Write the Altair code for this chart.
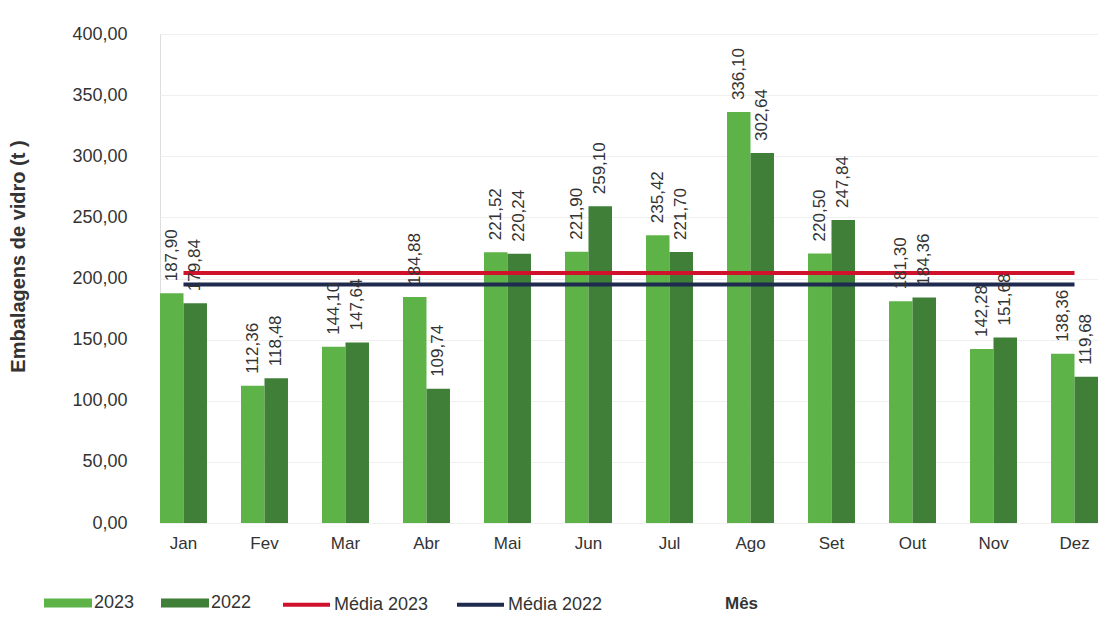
import altair as alt
import pandas as pd

months = ["Jan", "Fev", "Mar", "Abr", "Mai", "Jun", "Jul", "Ago", "Set", "Out", "Nov", "Dez"]
v2023 = [187.90, 112.36, 144.10, 184.88, 221.52, 221.90, 235.42, 336.10, 220.50, 181.30, 142.28, 138.36]
v2022 = [179.84, 118.48, 147.64, 109.74, 220.24, 259.10, 221.70, 302.64, 247.84, 184.36, 151.68, 119.68]
mean_names = ["Média 2023", "Média 2022"]
mean_values = [204.5, 195.0]

FONT = "Liberation Sans, Arial, sans-serif"

rows = []
for m, a, b in zip(months, v2023, v2022):
    rows.append({"mes": m, "ano": "2023", "valor": a, "rotulo": f"{a:.2f}".replace(".", ",")})
    rows.append({"mes": m, "ano": "2022", "valor": b, "rotulo": f"{b:.2f}".replace(".", ",")})
bars_df = pd.DataFrame(rows)

mean_rows = []
for name, val in zip(mean_names, mean_values):
    for m in (months[0], months[-1]):
        mean_rows.append({"mes": m, "serie": name, "valor": val})
mean_df = pd.DataFrame(mean_rows)

x_enc = alt.X(
    "mes:N",
    sort=months,
    scale=alt.Scale(paddingInner=0.42, paddingOuter=0.0),
    axis=alt.Axis(
        title="Mês",
        titleFont=FONT, titleFontSize=17, titleFontWeight="bold", titleColor="#333333",
        titleX=581, titleY=80, titleAlign="center", titleBaseline="middle", titleAnchor="start",
        labelFont=FONT, labelFontSize=17, labelColor="#333333", labelPadding=12,
        labelAngle=0, ticks=False, domain=False, grid=False,
    ),
)
y_scale = alt.Scale(domain=[0, 400], nice=False)
y_axis = alt.Axis(
    title="Embalagens  de vidro (t )",
    titleFont=FONT, titleFontSize=20, titleFontWeight="bold", titleColor="#333333",
    titleAngle=270, titleX=-142, titleY=222, titleAlign="center", titleBaseline="middle",
    labelFont=FONT, labelFontSize=18, labelColor="#333333", labelPadding=33,
    values=[0, 50, 100, 150, 200, 250, 300, 350, 400],
    labelExpr="replace(format(datum.value, '.2f'), '.', ',')",
    ticks=False, domain=False, grid=True, gridColor="#efefef", gridWidth=1,
)

bars = alt.Chart(bars_df).mark_bar().encode(
    x=x_enc,
    xOffset=alt.XOffset("ano:N", sort=["2023", "2022"]),
    y=alt.Y("valor:Q", scale=y_scale, axis=y_axis),
    fill=alt.Fill(
        "ano:N",
        scale=alt.Scale(domain=["2023", "2022"], range=["#5db348", "#3f7f38"]),
        legend=alt.Legend(
            title=None, orient="none", legendX=-116, legendY=545, direction="horizontal",
            symbolType="M-1,-0.19H1V0.19H-1Z", symbolSize=2304, symbolStrokeWidth=0,
            labelFont=FONT, labelFontSize=18, labelColor="#333333", labelOffset=2,
            columnPadding=26,
        ),
    ),
)

labels = alt.Chart(bars_df).mark_text(
    angle=270, align="left", baseline="middle", dx=12, font=FONT, fontSize=17, color="#333333"
).encode(
    x=alt.X("mes:N", sort=months),
    xOffset=alt.XOffset("ano:N", sort=["2023", "2022"]),
    y=alt.Y("valor:Q", scale=y_scale),
    text="rotulo:N",
)

means = alt.Chart(mean_df).mark_line(strokeWidth=4).encode(
    x=alt.X("mes:N", sort=months),
    y=alt.Y("valor:Q", scale=y_scale),
    stroke=alt.Stroke(
        "serie:N",
        scale=alt.Scale(domain=mean_names, range=["#d0112b", "#1f2a4f"]),
        legend=alt.Legend(
            title=None, orient="none", legendX=121, legendY=545, direction="horizontal",
            symbolType="stroke", symbolSize=2209, symbolStrokeWidth=4,
            labelFont=FONT, labelFontSize=18, labelColor="#333333", labelOffset=2,
            columnPadding=20,
        ),
    ),
)

chart = alt.layer(bars, means, labels).properties(
    width=938, height=489,
    autosize=alt.AutoSizeParams(type="none"),
    padding={"left": 152, "top": 26, "right": 0, "bottom": 100},
).configure_view(stroke=None).configure(background="white")

chart.save("out.html", embed_options={"renderer": "svg", "actions": False})
